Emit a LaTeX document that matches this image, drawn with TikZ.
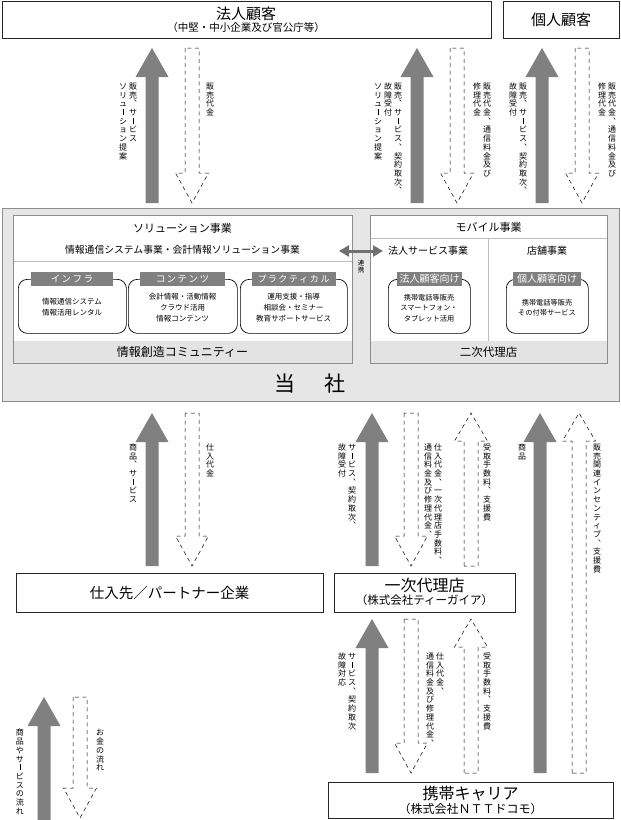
\documentclass[tikz,border=0pt]{standalone}
\usepackage{fontspec}
\setmainfont{Noto Sans CJK JP}
\usetikzlibrary{arrows.meta}

\definecolor{arrgray}{HTML}{808080}
\definecolor{boxgray}{HTML}{E6E6E6}
\definecolor{framegray}{HTML}{8C8C8C}
\definecolor{bandgray}{HTML}{E3E3E3}
\definecolor{tabgray}{HTML}{808080}
\definecolor{sepgray}{HTML}{BDBDBD}
\definecolor{linkgray}{HTML}{707070}

\makeatletter
\newdimen\vtcell \vtcell=8.7pt
\def\vt@end{\vt@end}
\newcommand\vtext[1]{\vbox{\offinterlineskip\vt@loop#1\vt@end}}
\def\vt@loop#1{\ifx#1\vt@end\else\vt@cell{#1}\expandafter\vt@loop\fi}
\def\vt@cell#1{\hbox to 1em{\vrule height\vtcell depth 0pt width 0pt\hss\smash{#1}\hss}}
\makeatother
\newcommand\VtBar{\vrule width 0.5pt height 0.8em depth -0.05em}
\newcommand\VtCom{︑}
\newcommand\LSp{\hspace{1.5pt}}

\newcommand\SolidUp[3]{\fill[solidarr] (#1-6.5,#3) -- (#1-6.5,#2+29) -- (#1-16.5,#2+29) -- (#1,#2) -- (#1+16.5,#2+29) -- (#1+6.5,#2+29) -- (#1+6.5,#3) -- cycle;}
\newcommand\DashDown[3]{\draw[dasharr] (#1-7,#2) -- (#1-7,#3-30) -- (#1-16.5,#3-30) -- (#1,#3) -- (#1+16.5,#3-30) -- (#1+7,#3-30) -- (#1+7,#2) -- cycle;}
\newcommand\DashUp[3]{\draw[dasharr] (#1-7,#3) -- (#1-7,#2+28) -- (#1-16.5,#2+28) -- (#1,#2) -- (#1+16.5,#2+28) -- (#1+7,#2+28) -- (#1+7,#3) -- cycle;}

\tikzset{
  solidarr/.style={fill=arrgray},
  dasharr/.style={draw=black, line width=0.5pt, dash pattern=on 4pt off 3.5pt},
  vlab/.style={anchor=north, inner sep=0pt, font=\fontsize{8}{9}\selectfont},
  topbox/.style={draw=black!85, line width=0.8pt, fill=white, anchor=north west, inner sep=0pt},
  innerbox/.style={draw=framegray, line width=1.4pt, anchor=north west, inner sep=0pt},
  rbox/.style={draw=black, line width=0.7pt, rounded corners=9pt, fill=white, anchor=north west, inner sep=0pt, minimum height=54},
  tabbox/.style={fill=tabgray, text=white, minimum height=14, inner sep=0pt, font=\fontsize{9.5}{10}\selectfont},
  smalltext/.style={align=center, inner sep=0pt, font=\fontsize{7.5}{11}\selectfont},
  txt/.style={inner sep=0pt},
  linkarrow/.style={{Triangle[length=10pt,width=11pt]}-{Triangle[length=10pt,width=11pt]}, line width=3pt, draw=linkgray},
}

\begin{document}
\begin{tikzpicture}[x=1pt,y=-1pt]
\useasboundingbox (0,0) rectangle (621,820);
\fill[white] (0,0) rectangle (621,820);

% ---- top customer boxes
\node[topbox, minimum width=489, minimum height=37] (hojin) at (2,1) {};
\node[txt, font=\fontsize{15}{16}\selectfont] (hojinT) at (246,13.5) {法人顧客};
\node[txt, font=\fontsize{10.5}{12}\selectfont] (hojinS) at (246,28) {（中堅・中小企業及び官公庁等）};
\node[topbox, minimum width=116, minimum height=37] (kojin) at (503,1) {};
\node[txt, font=\fontsize{15}{16}\selectfont] (kojinT) at (561,19.5) {個人顧客};

% ---- company big box
\node[draw=framegray, line width=1.2pt, fill=boxgray, anchor=north west, inner sep=0pt, minimum width=617, minimum height=193] (company) at (2,208) {};
\node[txt, font=\fontsize{21}{22}\selectfont] (companyT) at (310,384) {当\hspace{30pt}社};

% solution box
\fill[white] (13,215) rectangle (352,341);
\fill[bandgray] (13,341) rectangle (352,363);
\draw[sepgray, line width=0.6pt] (13,261) -- (352,261);
\node[innerbox, minimum width=339, minimum height=148] (solution) at (13,215) {};
\node[txt, font=\fontsize{11}{12}\selectfont] (solT) at (182.5,228) {ソリューション事業};
\node[txt, font=\fontsize{9.8}{11}\selectfont] (solS) at (182.5,250) {情報通信システム事業・会計情報ソリューション事業};
\node[txt, font=\fontsize{12}{13}\selectfont] (solB) at (182.5,352) {情報創造コミュニティー};

\node[rbox, minimum width=108] (infra) at (18,279) {};
\node[tabbox, minimum width=82] (infraTab) at (72,279) {イ\LSp ン\LSp フ\LSp ラ};
\node[smalltext] (infraTxt) at (72,307) {情報通信システム\\情報活用レンタル};

\node[rbox, minimum width=109] (cont) at (128,279) {};
\node[tabbox, minimum width=85] (contTab) at (182.5,279) {コ\LSp ン\LSp テ\LSp ン\LSp ツ};
\node[smalltext] (contTxt) at (182.5,307.5) {会計情報・活動情報\\クラウド活用\\情報コンテンツ};

\node[rbox, minimum width=107] (prac) at (240,279) {};
\node[tabbox, minimum width=84, font=\fontsize{9}{10}\selectfont] (pracTab) at (293.5,279) {プ\LSp ラ\LSp ク\LSp テ\LSp ィ\LSp カ\LSp ル};
\node[smalltext] (pracTxt) at (293.5,307.5) {運用支援・指導\\相談会・セミナー\\教育サポートサービス};

% mobile box
\fill[white] (370,215) rectangle (607,341);
\fill[bandgray] (370,341) rectangle (607,363);
\draw[sepgray, line width=0.6pt] (370,238) -- (607,238);
\draw[sepgray, line width=0.6pt] (488.5,238) -- (488.5,341);
\node[innerbox, minimum width=237, minimum height=148] (mobile) at (370,215) {};
\node[txt, font=\fontsize{11}{12}\selectfont] (mobT) at (488.5,227.5) {モバイル事業};
\node[txt, font=\fontsize{10}{11}\selectfont] (mobH) at (428,251) {法人サービス事業};
\node[txt, font=\fontsize{10}{11}\selectfont] (mobK) at (547,251) {店舗事業};
\node[txt, font=\fontsize{11.5}{12}\selectfont] (mobB) at (488.5,352) {二次代理店};

\node[rbox, minimum width=82] (hbiz) at (388,279) {};
\node[tabbox, minimum width=65, font=\fontsize{10}{11}\selectfont] (hbizTab) at (429.5,279) {法人顧客向け};
\node[smalltext, font=\fontsize{7.2}{10.5}\selectfont] (hbizTxt) at (429,308) {携帯電話等販売\\スマートフォン・\\タブレット活用};

\node[rbox, minimum width=82] (kbiz) at (506,279) {};
\node[tabbox, minimum width=68, font=\fontsize{10}{11}\selectfont] (kbizTab) at (547,279) {個人顧客向け};
\node[smalltext, font=\fontsize{7.2}{10}\selectfont] (kbizTxt) at (547,307.5) {携帯電話等販売\\その付帯サービス};

% link arrow
\coordinate (lkL) at (339,251);
\coordinate (lkR) at (383,251);
\draw[linkarrow] (lkL) -- (lkR);
\node[anchor=north, inner sep=0pt, font=\fontsize{6.5}{7}\selectfont] (lkT) at (361,258.5) {\vtcell=7pt\vtext{連携}};

% ---- lower boxes
\node[topbox, minimum width=307, minimum height=39] (partner) at (16,573) {};
\node[txt, font=\fontsize{14.5}{16}\selectfont] (partnerT) at (169.5,593) {仕入先／パートナー企業};
\node[topbox, minimum width=181, minimum height=39] (agent) at (334,573) {};
\node[txt, font=\fontsize{16}{17}\selectfont] (agentT) at (424.5,585.5) {一次代理店};
\node[txt, font=\fontsize{11.5}{12}\selectfont] (agentS) at (424.5,600.5) {（株式会社ティーガイア）};
\node[topbox, minimum width=285, minimum height=36] (carrier) at (328,782) {};
\node[txt, font=\fontsize{16}{17}\selectfont] (carrierT) at (470.5,793) {携帯キャリア};
\node[txt, font=\fontsize{12}{13}\selectfont] (carrierS) at (470.5,808.5) {（株式会社ＮＴＴドコモ）};

% ---- arrows top
\SolidUp{152}{48}{203}
\DashDown{192}{48}{203}
\SolidUp{417}{48}{203}
\DashDown{457}{48}{203}
\SolidUp{542}{48}{203}
\DashDown{582}{48}{203}
% ---- arrows middle
\SolidUp{152}{413}{566}
\DashDown{192}{413}{566}
\SolidUp{372}{413}{566}
\DashDown{411}{413}{566}
\DashUp{471}{413}{566}
\SolidUp{540}{413}{773}
\DashUp{579}{413}{773}
% ---- arrows lower
\SolidUp{372}{619}{773}
\DashDown{411}{619}{773}
\DashUp{471}{619}{773}
% ---- legend
\SolidUp{44}{697}{820}
\DashDown{80}{697}{818}

% ---- labels top
\node[vlab] (t1a) at (133,80.5) {\vtext{販売\VtCom サ\VtBar ビス}};
\node[vlab] (t1b) at (123,80.5) {\vtext{ソリュ\VtBar ション提案}};
\node[vlab] (t2) at (210,80.5) {\vtext{販売代金}};
\node[vlab] (t3a) at (398,80.5) {\vtext{販売\VtCom サ\VtBar ビス\VtCom 契約取次\VtCom}};
\node[vlab] (t3b) at (388,80.5) {\vtext{故障受付}};
\node[vlab] (t3c) at (378,80.5) {\vtext{ソリュ\VtBar ション提案}};
\node[vlab] (t4a) at (487,80.5) {\vtext{販売代金\VtCom 通信料金及び}};
\node[vlab] (t4b) at (477,80.5) {\vtext{修理代金}};
\node[vlab] (t5a) at (523,80.5) {\vtext{販売\VtCom サ\VtBar ビス\VtCom 契約取次\VtCom}};
\node[vlab] (t5b) at (513,80.5) {\vtext{故障受付}};
\node[vlab] (t6a) at (612,80.5) {\vtext{販売代金\VtCom 通信料金及び}};
\node[vlab] (t6b) at (602,80.5) {\vtext{修理代金}};

% ---- labels middle
\node[vlab] (m1) at (133,441.5) {\vtext{商品\VtCom サ\VtBar ビス}};
\node[vlab] (m2) at (210,441.5) {\vtext{仕入代金}};
\node[vlab] (m3a) at (352,441.5) {\vtext{サ\VtBar ビス\VtCom 契約取次\VtCom}};
\node[vlab] (m3b) at (342,441.5) {\vtext{故障受付}};
\node[vlab] (m4a) at (438,441.5) {\vtext{仕入代金\VtCom 一次代理店手数料\VtCom}};
\node[vlab] (m4b) at (428,441.5) {\vtext{通信料金及び修理代金\VtCom}};
\node[vlab] (m5) at (487,441.5) {\vtext{受取手数料\VtCom 支援費}};
\node[vlab] (m6) at (522,441.5) {\vtext{商品}};
\node[vlab] (m7) at (597,441.5) {\vtext{販売関連インセンティブ\VtCom 支援費}};

% ---- labels lower
\node[vlab] (l1a) at (352,650.5) {\vtext{サ\VtBar ビス\VtCom 契約取次}};
\node[vlab] (l1b) at (342,650.5) {\vtext{故障対応}};
\node[vlab] (l2a) at (440,650.5) {\vtext{仕入代金\VtCom}};
\node[vlab] (l2b) at (430,650.5) {\vtext{通信料金及び修理代金\VtCom}};
\node[vlab] (l3) at (487,650.5) {\vtext{受取手数料\VtCom 支援費}};

% ---- legend labels
\node[vlab] (g1) at (20,727) {\vtext{商品やサ\VtBar ビスの流れ}};
\node[vlab] (g2) at (100,727) {\vtext{お金の流れ}};
\end{tikzpicture}
\end{document}
